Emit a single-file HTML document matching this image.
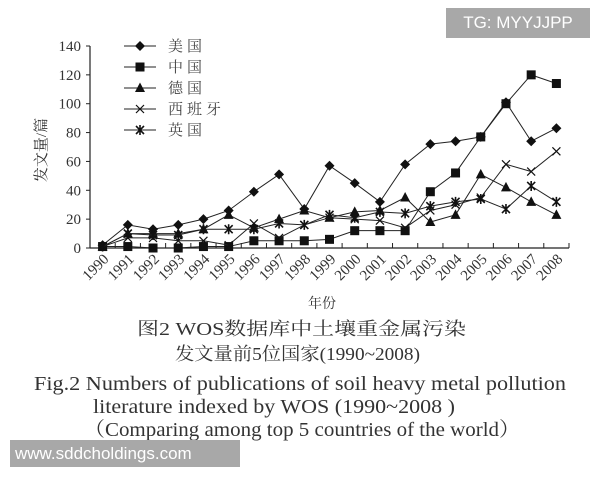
<!DOCTYPE html>
<html><head><meta charset="utf-8"><style>
body{margin:0;background:#fff;width:600px;height:480px;overflow:hidden;position:relative;font-family:"Liberation Serif","Noto Serif CJK SC",serif;}
</style></head><body>
<svg id="chart" width="600" height="480" style="position:absolute;left:0;top:0" font-family="Liberation Serif, Noto Serif CJK SC, serif">
<text x="137" y="335" font-size="18" fill="#333" textLength="329" lengthAdjust="spacingAndGlyphs">图2 WOS数据库中土壤重金属污染</text>
<text x="175" y="360" font-size="18" fill="#333" textLength="245" lengthAdjust="spacingAndGlyphs">发文量前5位国家(1990~2008)</text>
<text x="34" y="390" font-size="20" fill="#333" textLength="532" lengthAdjust="spacingAndGlyphs">Fig.2  Numbers of publications of soil heavy metal pollution</text>
<text x="93" y="413" font-size="20" fill="#333" textLength="362" lengthAdjust="spacingAndGlyphs">literature indexed by WOS (1990~2008 )</text>
<text x="84" y="436" font-size="20" fill="#333" textLength="436" lengthAdjust="spacingAndGlyphs">（Comparing among top 5 countries of the world）</text>
</svg>
<div style="position:absolute;left:446px;top:8px;width:144px;height:30px;background:#a8a8a8;color:#fff;font:17px 'Liberation Sans',sans-serif;line-height:30px;text-align:center">TG: MYYJJPP</div>
<div style="position:absolute;left:10px;top:440px;width:230px;height:27px;background:#a8a8a8;color:#fff;font:17px 'Liberation Sans',sans-serif;line-height:27px;padding-left:5px;box-sizing:border-box">www.sddcholdings.com</div>
<script>
const years=[1990,1991,1992,1993,1994,1995,1996,1997,1998,1999,2000,2001,2002,2003,2004,2005,2006,2007,2008];
const usa=[2,16,13,16,20,26,39,51,27,57,45,32,58,72,74,77,101,74,83];
const china=[1,1,0,0,1,1,5,5,5,6,12,12,12,39,52,77,100,120,114];
const germany=[1,10,10,10,13,23,14,20,26,21,25,26,35,18,23,51,42,32,23];
const spain=[1,7,7,5,5,2,17,7,16,21,20,19,14,26,30,35,58,53,67];
const uk=[1,10,9,9,13,13,13,17,16,23,21,25,24,29,32,34,27,43,32];
const yTicks=[0,20,40,60,80,100,120,140];
const names=["美国","中国","德国","西班牙","英国"];
const NS="http://www.w3.org/2000/svg";
const svg=document.getElementById('chart');
const X0=90,X1=569,Y0=248,Y1=46;
const cw=(X1-X0)/years.length;
const x=i=>X0+cw*(i+0.5);
const y=v=>Y0-(v/140)*(Y0-Y1);
function mk(t,a,p){const e=document.createElementNS(NS,t);for(const k in a)e.setAttribute(k,a[k]);(p||svg).appendChild(e);return e;}
const ax=mk('g',{});


mk('line',{x1:X0,y1:Y1,x2:X0,y2:Y0,stroke:'#222','stroke-width':1.2},ax);
mk('line',{x1:X0,y1:Y0,x2:X1,y2:Y0,stroke:'#222','stroke-width':1.2},ax);
yTicks.forEach(v=>{
 mk('line',{x1:X0-4,y1:y(v),x2:X0,y2:y(v),stroke:'#222'},ax);
 const t=mk('text',{x:X0-9,y:y(v)+5,'text-anchor':'end','font-size':15,fill:'#333'},ax);t.textContent=v;
 
 
});
for(let i=0;i<=years.length;i++)mk('line',{x1:X0+cw*i,y1:Y0,x2:X0+cw*i,y2:Y0-5,stroke:'#222'},ax);
years.forEach((yr,i)=>{
 const t=mk('text',{x:x(i)+7,y:Y0+12,'text-anchor':'end','font-size':15,fill:'#333',transform:`rotate(-45 ${x(i)+7} ${Y0+12})`},ax);t.textContent=yr;
 
 
});
let t=mk('text',{x:46,y:150,'text-anchor':'middle','font-size':15,fill:'#333',transform:'rotate(-90 46 150)'});t.textContent='发文量/篇';


t=mk('text',{x:322,y:308,'text-anchor':'middle','font-size':14,fill:'#333'});t.textContent='年份';


function marker(kind,cx,cy,g){
 if(kind==0)mk('polygon',{points:`${cx},${cy-5} ${cx+5},${cy} ${cx},${cy+5} ${cx-5},${cy}`,fill:'#111'},g);
 else if(kind==1)mk('rect',{x:cx-4.5,y:cy-4.5,width:9,height:9,fill:'#111'},g);
 else if(kind==2)mk('polygon',{points:`${cx},${cy-5.5} ${cx+5},${cy+4} ${cx-5},${cy+4}`,fill:'#111'},g);
 else if(kind==3){mk('path',{d:`M${cx-4} ${cy-4}L${cx+4} ${cy+4}M${cx-4} ${cy+4}L${cx+4} ${cy-4}`,stroke:'#111','stroke-width':1.2},g);}
 else {mk('path',{d:`M${cx-4} ${cy-4}L${cx+4} ${cy+4}M${cx-4} ${cy+4}L${cx+4} ${cy-4}M${cx} ${cy-5}L${cx} ${cy+5}`,stroke:'#111','stroke-width':1.6},g);}
}
const series=[usa,china,germany,spain,uk];
const sn=['series-usa','series-china','series-germany','series-spain','series-uk'];
series.forEach((d,k)=>{
 const g=mk('g',{});
 
 
 mk('polyline',{points:d.map((v,i)=>x(i)+','+y(v)).join(' '),fill:'none',stroke:'#222','stroke-width':1},g);
 d.forEach((v,i)=>marker(k,x(i),y(v),g));
});
names.forEach((n,k)=>{
 const g=mk('g',{});
 
 
 const ly=46+k*21;
 mk('line',{x1:124,y1:ly,x2:156,y2:ly,stroke:'#222'},g);
 marker(k,140,ly,g);
 const tt=mk('text',{x:168,y:ly+5,'font-size':15,fill:'#444','letter-spacing':4},g);tt.textContent=n;
});
</script>
</body></html>
